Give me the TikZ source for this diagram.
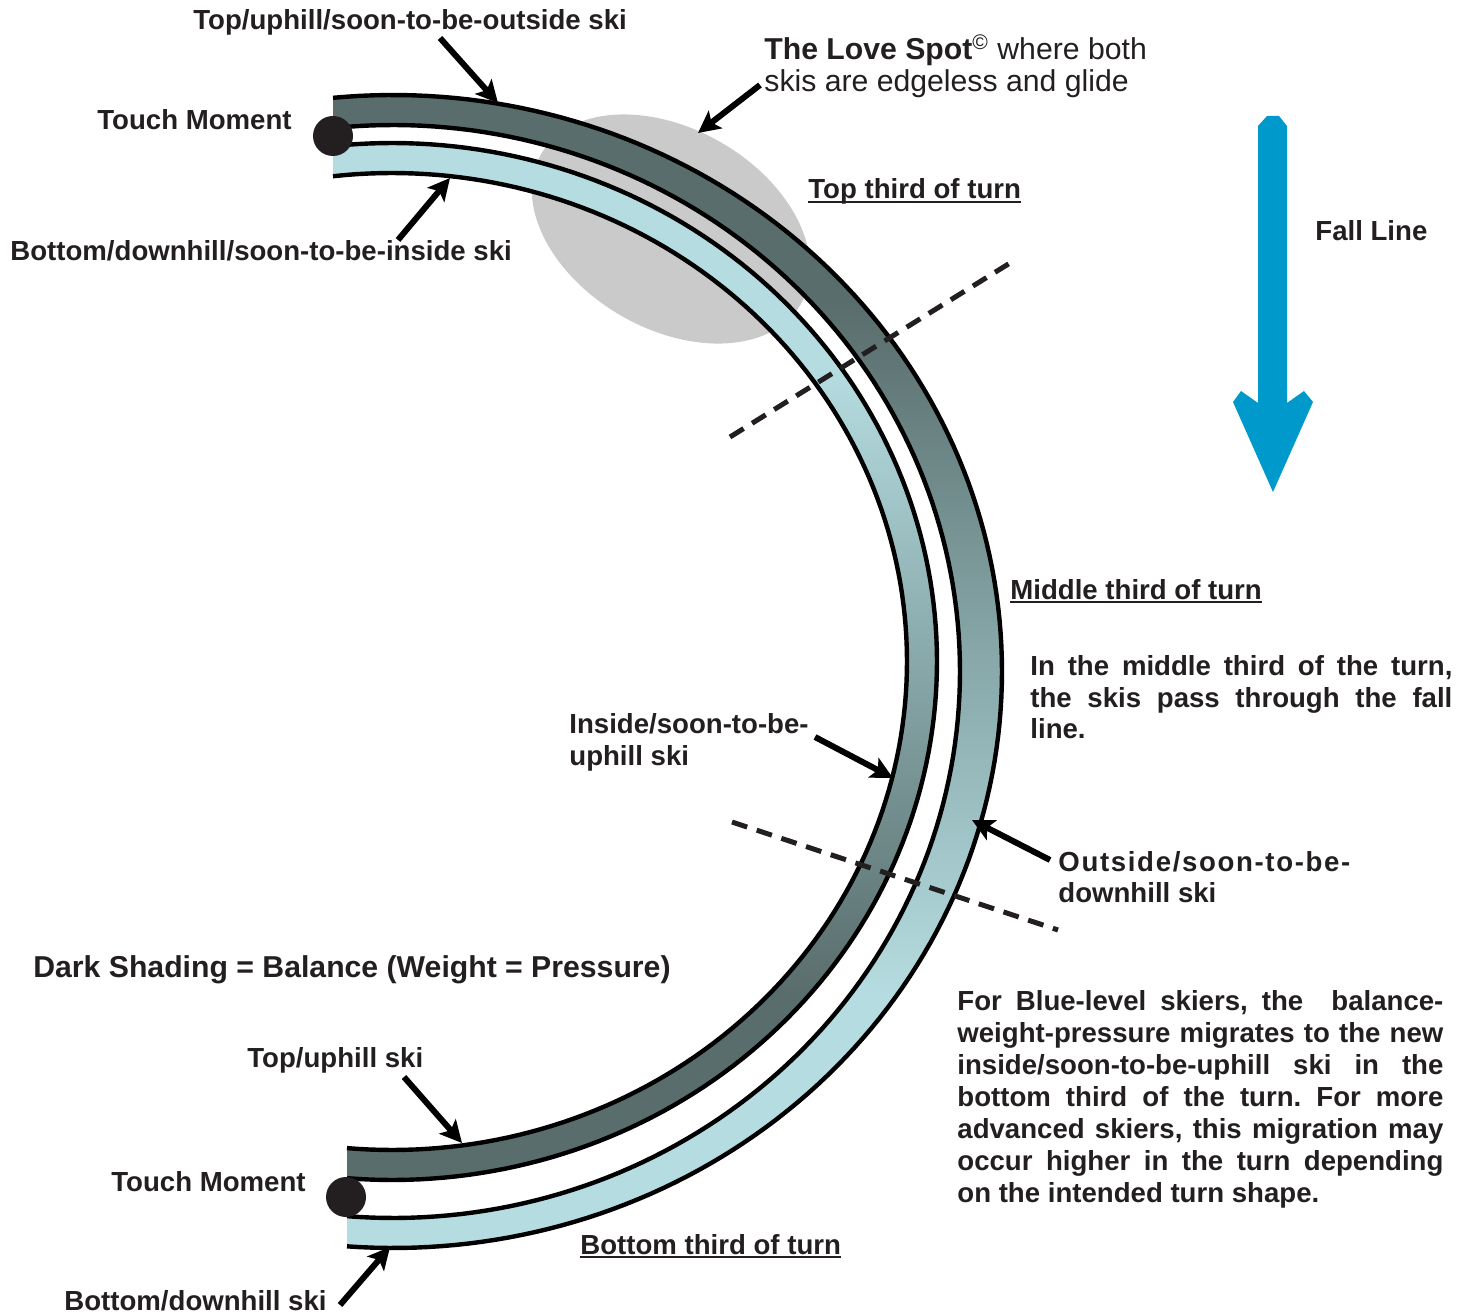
\documentclass[tikz,border=0pt]{standalone}
\usepackage{fontspec}
\setmainfont{Liberation Sans}
\usetikzlibrary{arrows.meta}
\definecolor{skidark}{HTML}{596D6C}
\definecolor{skimid}{HTML}{88A8AA}
\definecolor{skilight}{HTML}{B5DCE0}
\definecolor{txt}{HTML}{231F20}
\definecolor{fallblue}{HTML}{0099CC}
\definecolor{blobgray}{HTML}{CACACA}
\pgfdeclareverticalshading{outerski}{100bp}{color(0bp)=(skilight); color(36bp)=(skilight); color(50.5bp)=(skimid); color(66bp)=(skidark); color(100bp)=(skidark)}
\pgfdeclareverticalshading{innerski}{100bp}{color(0bp)=(skidark); color(34bp)=(skidark); color(50bp)=(skimid); color(64bp)=(skilight); color(100bp)=(skilight)}
\newcommand\myul[1]{\setbox0\hbox{#1}\rlap{\rule[-2.2pt]{\wd0}{1pt}}\box0}
\frenchspacing
\begin{document}
\begin{tikzpicture}[x=0.5pt,y=-0.5pt,
  lbl/.style={anchor=base west, inner sep=0pt, text=txt, font=\fontsize{13.8}{16}\selectfont\bfseries},
  big/.style={anchor=base west, inner sep=0pt, text=txt, font=\fontsize{15.1}{16}\selectfont},
  skiline/.style={line width=2.2pt, black},
  dashline/.style={line width=2.5pt, txt, dash pattern=on 8pt off 5pt},
  ptr/.style={line width=3pt, black, -{Stealth[length=11pt,width=11pt,inset=2.5pt]}},
  dot/.style={circle, fill=txt, minimum size=20pt, inner sep=0pt}]
\useasboundingbox (0,0) rectangle (1472,1315);

% love spot
\fill[blobgray, rotate around={-30:(671,229)}] (671,229) ellipse [x radius=150, y radius=100];

% outer ski (dark at top, light at bottom)
\shade[shading=outerski] plot[domain=-95.654:94.332, samples=150, variable=\t] ({393+609*cos(\t)},{671.5+576.5*sin(\t)})
  -- plot[domain=94.654:-96.074, samples=150, variable=\t] ({393+567*cos(\t)},{671.5+546.5*sin(\t)}) -- cycle;
% inner ski (light at top, dark at bottom)
\shade[shading=innerski] plot[domain=-96.215:94.736, samples=150, variable=\t] ({392+545*cos(\t)},{661.5+518.5*sin(\t)})
  -- plot[domain=95.013:-96.578, samples=150, variable=\t] ({392+515*cos(\t)},{661.5+488.5*sin(\t)}) -- cycle;
\draw[skiline] plot[domain=-95.654:94.332, samples=150, variable=\t] ({393+609*cos(\t)},{671.5+576.5*sin(\t)});
\draw[skiline] plot[domain=-96.074:94.654, samples=150, variable=\t] ({393+567*cos(\t)},{671.5+546.5*sin(\t)});
\draw[skiline] plot[domain=-96.215:94.736, samples=150, variable=\t] ({392+545*cos(\t)},{661.5+518.5*sin(\t)});
\draw[skiline] plot[domain=-96.578:95.013, samples=150, variable=\t] ({392+515*cos(\t)},{661.5+488.5*sin(\t)});

% touch moments
\node[dot] (tm1) at (333,136) {};
\node[dot] (tm2) at (346,1197) {};

% dashed third lines
\coordinate (d1a) at (730,437); \coordinate (d1b) at (1010,263);
\coordinate (d2a) at (732,822); \coordinate (d2b) at (1058,930);
\draw[dashline] (d1a) -- (d1b);
\draw[dashline] (d2a) -- (d2b);

% fall line arrow
\fill[fallblue] (1267,116) -- (1279,116) -- (1287,126) -- (1287,403) -- (1304,391) -- (1313,402)
  -- (1273,492) -- (1233,402) -- (1241,391) -- (1258,403) -- (1258,126) -- cycle;

% labels
\node[lbl] (l1) at (193,30) {Top/uphill/soon-to-be-outside ski};
\node[lbl] (l2) at (97,130) {Touch Moment};
\node[lbl] (l3) at (10,261) {Bottom/downhill/soon-to-be-inside ski};
\node[big] (ls1) at (764,60) {\textbf{The Love Spot}\textsuperscript{©} where both};
\node[big] (ls2) at (764,92) {skis are edgeless and glide};
\node[lbl] (t1) at (808,199) {\myul{Top third of turn}};
\node[lbl] (fl) at (1315,241) {Fall Line};
\node[lbl] (t2) at (1010,599) {\myul{Middle third of turn}};
\node[lbl] (p1a) at (1030,675) {\makebox[211pt][s]{In the middle third of the turn,}};
\node[lbl] (p1b) at (1030,707) {\makebox[211pt][s]{the skis pass through the fall}};
\node[lbl] (p1c) at (1030,738) {line.};
\node[lbl] (in1) at (569,733) {Inside/soon-to-be-};
\node[lbl] (in2) at (569,765) {uphill ski};
\node[lbl] (out1) at (1058,871) {\addfontfeature{LetterSpace=6}Outside/soon-to-be-};
\node[lbl] (out2) at (1058,902) {downhill ski};
\node[big, font=\fontsize{15.1}{16}\selectfont\bfseries] (ds) at (33,977) {Dark Shading = Balance (Weight = Pressure)};
\node[lbl] (p2a) at (957,1010) {\makebox[243pt][s]{For Blue-level skiers, the \ balance-}};
\node[lbl] (p2b) at (957,1042) {\makebox[243pt][s]{weight-pressure migrates to the new}};
\node[lbl] (p2c) at (957,1074) {\makebox[243pt][s]{inside/soon-to-be-uphill \ ski \ in \ the}};
\node[lbl] (p2d) at (957,1106) {\makebox[243pt][s]{bottom third of the turn. For more}};
\node[lbl] (p2e) at (957,1138) {\makebox[243pt][s]{advanced skiers, this migration may}};
\node[lbl] (p2f) at (957,1170) {\makebox[243pt][s]{occur higher in the turn depending}};
\node[lbl] (p2g) at (957,1202) {on the intended turn shape.};
\node[lbl] (b1) at (247,1067) {Top/uphill ski};
\node[lbl] (b2) at (111,1191) {Touch Moment};
\node[lbl] (t3) at (580,1254) {\myul{Bottom third of turn}};
\node[lbl] (b3) at (64,1310) {Bottom/downhill ski};

% pointer arrows
\coordinate (a1s) at (440,38);   \coordinate (a1e) at (498,103);
\coordinate (a2s) at (398,240);  \coordinate (a2e) at (450,178);
\coordinate (a3s) at (760,85);   \coordinate (a3e) at (698,133);
\coordinate (a4s) at (815,737);  \coordinate (a4e) at (893,778);
\coordinate (a5s) at (1050,860); \coordinate (a5e) at (972,820);
\coordinate (a6s) at (404,1077); \coordinate (a6e) at (462,1143);
\coordinate (a7s) at (340,1305); \coordinate (a7e) at (390,1247);
\draw[ptr] (a1s) -- (a1e);
\draw[ptr] (a2s) -- (a2e);
\draw[ptr] (a3s) -- (a3e);
\draw[ptr] (a4s) -- (a4e);
\draw[ptr] (a5s) -- (a5e);
\draw[ptr] (a6s) -- (a6e);
\draw[ptr] (a7s) -- (a7e);
\end{tikzpicture}
\end{document}
